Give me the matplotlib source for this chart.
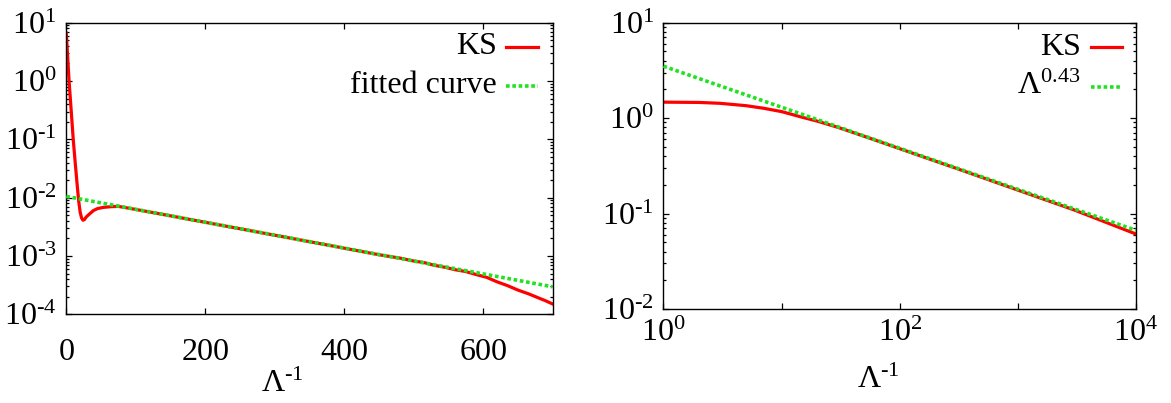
import matplotlib
matplotlib.use('Agg')
import matplotlib.pyplot as plt
from matplotlib.ticker import FixedLocator, LogLocator, NullFormatter, NullLocator, FixedFormatter

plt.rcParams['font.family'] = ['Liberation Serif', 'DejaVu Serif']
plt.rcParams['mathtext.fontset'] = 'custom'
plt.rcParams['mathtext.rm'] = 'Liberation Serif'
plt.rcParams['mathtext.it'] = 'Liberation Serif:italic'
plt.rcParams['mathtext.bf'] = 'Liberation Serif:bold'

# ---- data: left panel (linear x, log y) ----
ks_left_x = [0, 2, 4, 7, 10, 13, 16, 18, 20, 22, 24, 26, 29, 33, 39, 45, 53, 64, 75, 90,
             110, 150, 200, 250, 300, 350, 400, 450, 480, 500, 515, 530, 545, 560, 575, 590,
             605, 620, 635, 650, 665, 680, 690, 700]
ks_left_y = [6.6, 2.6, 1.0, 0.32, 0.10, 0.038, 0.015, 8.5e-3, 5.6e-3, 4.5e-3, 4.1e-3, 4.2e-3,
             4.7e-3, 5.2e-3, 6.0e-3, 6.5e-3, 6.8e-3, 7.0e-3, 7.08e-3, 6.6e-3,
             5.97e-3, 4.88e-3, 3.78e-3, 2.93e-3, 2.27e-3, 1.76e-3, 1.36e-3, 1.05e-3, 9.2e-4,
             8.2e-4, 7.7e-4, 6.9e-4, 6.4e-4, 5.8e-4, 5.4e-4, 4.8e-4,
             4.3e-4, 3.6e-4, 3.1e-4, 2.6e-4, 2.25e-4, 1.9e-4, 1.7e-4, 1.5e-4]
fit_left_x = [0, 700]
fit_left_y = [1.05e-2, 2.96e-4]

# ---- data: right panel (log x, log y) ----
ks_right_x = [1, 2, 3, 5, 7, 10, 15, 20, 30, 50, 100, 300, 1000, 3000, 10000]
ks_right_y = [1.47, 1.46, 1.43, 1.35, 1.27, 1.17, 1.02, 0.93, 0.80, 0.645, 0.478, 0.298,
              0.176, 0.109, 0.061]
fit_right_x = [1, 10000]
fit_right_y = [3.5, 0.0667]

H = '\u2010'  # hyphen used as superscript minus, as in the original
left_xticks = [0, 200, 400, 600]
left_xticklabels = ['0', '200', '400', '600']
left_yticks = [1e-4, 1e-3, 1e-2, 1e-1, 1e0, 1e1]
left_yticklabels = [r'$\mathregular{10^{%s4}}$' % H, r'$\mathregular{10^{%s3}}$' % H,
                    r'$\mathregular{10^{%s2}}$' % H, r'$\mathregular{10^{%s1}}$' % H,
                    r'$\mathregular{10^{0}}$', r'$\mathregular{10^{1}}$']
right_xticks = [1, 10, 100, 1000, 10000]
right_xticklabels = [r'$\mathregular{10^{0}}$', '', r'$\mathregular{10^{2}}$', '', r'$\mathregular{10^{4}}$']
right_yticks = [1e-2, 1e-1, 1e0, 1e1]
right_yticklabels = [r'$\mathregular{10^{%s2}}$' % H, r'$\mathregular{10^{%s1}}$' % H,
                     r'$\mathregular{10^{0}}$', r'$\mathregular{10^{1}}$']
xlabel_text = r'$\mathregular{\Lambda^{%s1}}$' % H

RED = '#ff0000'
GREEN = '#22e022'
FS = 23

fig = plt.figure(figsize=(11.71, 4.03), dpi=100)
axL = fig.add_axes([0.0566, 0.2201, 0.4154, 0.7236])
axR = fig.add_axes([0.5666, 0.2333, 0.4035, 0.7104])

for ax in (axL, axR):
    for s in ax.spines.values():
        s.set_linewidth(1.0)
    ax.tick_params(which='both', direction='in', top=True, right=True, labelsize=FS, width=0.9)
    ax.tick_params(which='major', length=4.5)
    ax.tick_params(which='minor', length=2.5)

# Left panel
axL.plot(ks_left_x, ks_left_y, color=RED, lw=2.3, zorder=2)
axL.plot(fit_left_x, fit_left_y, color=GREEN, lw=2.6, linestyle=(0, (1, 0.75)), zorder=3)
axL.set_yscale('log')
axL.set_xlim(0, 700)
axL.set_ylim(1e-4, 1e1)
axL.xaxis.set_major_locator(FixedLocator(left_xticks))
axL.xaxis.set_major_formatter(FixedFormatter(left_xticklabels))
axL.xaxis.set_minor_locator(NullLocator())
axL.yaxis.set_major_locator(FixedLocator(left_yticks))
axL.yaxis.set_major_formatter(FixedFormatter(left_yticklabels))
axL.yaxis.set_minor_locator(LogLocator(base=10, subs=range(2, 10), numticks=20))
axL.yaxis.set_minor_formatter(NullFormatter())
axL.tick_params(axis='x', which='major', pad=17)
axL.tick_params(axis='y', which='major', pad=7)
axL.set_xlabel(xlabel_text, fontsize=FS, va='center')
axL.xaxis.set_label_coords(0.445, -0.24)

axL.text(0.8855, 0.917, 'KS', transform=axL.transAxes, ha='right', va='center', fontsize=FS)
axL.plot([0.904, 0.970], [0.917, 0.917], transform=axL.transAxes, color=RED, lw=2.3, clip_on=False)
axL.text(0.8855, 0.783, 'fitted curve', transform=axL.transAxes, ha='right', va='center', fontsize=FS)
axL.plot([0.904, 0.970], [0.783, 0.783], transform=axL.transAxes, color=GREEN, lw=2.6,
         linestyle=(0, (1, 0.75)), clip_on=False)

# Right panel
axR.plot(ks_right_x, ks_right_y, color=RED, lw=2.3, zorder=2)
axR.plot(fit_right_x, fit_right_y, color=GREEN, lw=2.6, linestyle=(0, (1, 0.75)), zorder=3)
axR.set_xscale('log')
axR.set_yscale('log')
axR.set_xlim(1, 1e4)
axR.set_ylim(1e-2, 1e1)
axR.xaxis.set_major_locator(FixedLocator(right_xticks))
axR.xaxis.set_major_formatter(FixedFormatter(right_xticklabels))
axR.xaxis.set_minor_locator(NullLocator())
axR.yaxis.set_major_locator(FixedLocator(right_yticks))
axR.yaxis.set_major_formatter(FixedFormatter(right_yticklabels))
axR.yaxis.set_minor_locator(LogLocator(base=10, subs=range(2, 10), numticks=20))
axR.yaxis.set_minor_formatter(NullFormatter())
axR.tick_params(axis='x', which='major', pad=7)
axR.tick_params(axis='y', which='major', pad=7)
axR.set_xlabel(xlabel_text, fontsize=FS, va='center')
axR.xaxis.set_label_coords(0.454, -0.25)

axR.text(0.883, 0.915, 'KS', transform=axR.transAxes, ha='right', va='center', fontsize=FS)
axR.plot([0.904, 0.971], [0.915, 0.915], transform=axR.transAxes, color=RED, lw=2.3, clip_on=False)
axR.text(0.883, 0.777, r'$\mathregular{\Lambda^{0.43}}$', transform=axR.transAxes, ha='right',
         va='center', fontsize=FS)
axR.plot([0.904, 0.971], [0.777, 0.777], transform=axR.transAxes, color=GREEN, lw=2.6,
         linestyle=(0, (1, 0.75)), clip_on=False)

fig.savefig('out.png', dpi=100)
